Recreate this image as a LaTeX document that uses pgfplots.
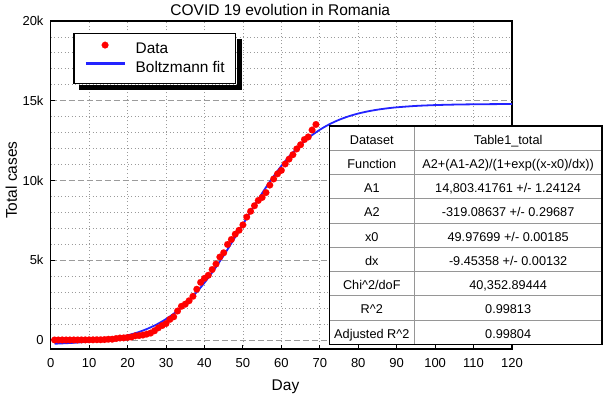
\documentclass[border=0pt]{standalone}
\usepackage{fontspec}
\setmainfont{Liberation Sans}
\usepackage{pgfplots}
\usepackage{pgfplotstable}
\pgfplotsset{compat=1.18}
\definecolor{fitblue}{RGB}{35,35,255}
\definecolor{gridgray}{RGB}{155,155,155}
\definecolor{tabgray}{RGB}{150,150,150}

\pgfplotsset{
  dotlegend/.style={legend image code/.code={%
    \path[draw=none, fill=none] (0bp,0bp) -- (38.7bp,0bp);
    \draw[mark repeat=2, mark phase=2, ##1, /tikz/only marks] plot coordinates {(0bp,4.4bp) (19.3bp,4.4bp) (38.7bp,4.4bp)};}},
  linelegend/.style={legend image code/.code={\draw[##1, line width=2.4bp] (0bp,5bp) -- (38.7bp,5bp);}},
}

\pgfplotstableread{
day total
1 1
2 1
3 3
4 3
5 3
6 3
7 3
8 4
9 6
10 9
11 9
12 15
13 15
14 25
15 45
16 49
17 89
18 123
19 131
20 158
21 184
22 260
23 277
24 308
25 367
26 433
27 576
28 762
29 906
30 1029
31 1292
32 1452
33 1815
34 2109
35 2245
36 2460
37 2738
38 3183
39 3613
40 3864
41 4057
42 4417
43 4761
44 5202
45 5467
46 5990
47 6300
48 6633
49 6879
50 7216
51 7707
52 8067
53 8418
54 8746
55 8936
56 9242
57 9710
58 10096
59 10417
60 10635
61 11036
62 11339
63 11616
64 11978
65 12240
66 12567
67 12732
68 13163
69 13512
}\datatable

\pgfplotstableread{
x fit
1 -234.5
2.5 -220.1
5 -190.4
7.5 -151.8
10 -101.9
12.5 -37.4
15 45.8
17.5 152.9
20 289.9
22.5 464.7
25 686.3
27.5 964.7
30 1311.6
32.5 1737.9
35 2254.5
37.5 2869.9
40 3585.5
42.5 4398.8
45 5296.3
47.5 6257.3
50 7251.4
52.5 8245.5
55 9204.4
57.5 10101.5
60 10912.6
62.5 11626.9
65 12240.1
67.5 12755.4
70 13179.9
72.5 13525.2
75 13802.9
77.5 14023.2
80 14197.3
82.5 14333.7
85 14440.2
87.5 14523.0
90 14587.3
95 14675.3
100 14727.6
105 14758.6
110 14776.9
115 14787.8
120 14794.2
}\fittable

\begin{document}
\begin{tikzpicture}
\path[use as bounding box] (-50.7bp,-45bp) rectangle (556.3bp,349bp);
\begin{axis}[
  at={(0,0)}, anchor=south west,
  scale only axis, width=461.3bp, height=328bp,
  xmin=0, xmax=120, ymin=-566, ymax=20000,
  axis line style={line width=1.2bp},
  xtick={0,10,...,120},
  ytick={0,5000,10000,15000,20000},
  yticklabels={0,5k,10k,15k,20k},
  scaled y ticks=false,
  minor ytick={1000,2000,3000,4000,6000,7000,8000,9000,11000,12000,13000,14000,16000,17000,18000,19000},
  extra y ticks={0,5000,10000,15000},
  extra y tick labels={},
  extra y tick style={grid=major, major grid style={gridgray, line width=0.8bp, dash pattern=on 6bp off 3bp}},
  xmajorgrids, ymajorgrids=false, yminorgrids,
  major grid style={gridgray, line width=0.8bp, dash pattern=on 1bp off 2.5bp},
  minor grid style={gridgray, line width=0.8bp, dash pattern=on 1bp off 2.5bp},
  tick align=inside, xtick pos=left, ytick pos=left,
  major tick length=4bp, minor tick length=0bp,
  tick style={black, line width=1bp},
  /pgf/number format/assume math mode=true,
  ticklabel style={font=\fontsize{13bp}{15bp}\selectfont},
  xticklabel style={anchor=base, yshift=-18.3bp},
  yticklabel style={anchor=east, inner sep=0pt, xshift=-7bp},
  xlabel={Day},
  xlabel style={at={(axis description cs:0.509,-0.128)}, anchor=base, font=\fontsize{15.5bp}{18bp}\selectfont, inner sep=0pt},
  ylabel={Total cases},
  ylabel style={at={(axis description cs:-0.0731,0.515)}, anchor=base, font=\fontsize{15.5bp}{18bp}\selectfont, inner sep=0pt},
  legend cell align=left,
  legend style={name=leg, at={(axis description cs:0.049,0.9625)}, anchor=north west,
    draw=black, line width=1.2bp, fill=white,
    font=\fontsize{15.4bp}{18bp}\selectfont,
    inner xsep=10.7bp, inner ysep=7.8bp, column sep=10bp, row sep=4.5bp,
    nodes={inner sep=0pt, text height=11.5bp, text depth=3bp}},
]
\addplot[only marks, mark=*, mark size=3.4bp, color=red, mark options={fill=red, draw=red, line width=0.1bp}, dotlegend]
  table[x=day, y=total] {\datatable};
\addlegendentry{Data}
\addplot[fitblue, line width=1.8bp, smooth, no marks, linelegend]
  table[x=x, y=fit] {\fittable};
\addlegendentry{Boltzmann fit}
\end{axis}

% title
\node[anchor=base, inner sep=0pt, font=\fontsize{15.5bp}{18bp}\selectfont] at (229.6bp,333.7bp) {COVID 19 evolution in Romania};

% legend shadow (right and bottom strips)
\fill[black] ([xshift=0.6bp]leg.north east) ++(0bp,-5.5bp) rectangle ([xshift=6.1bp,yshift=-6.1bp]leg.south east);
\fill[black] ([xshift=5.5bp,yshift=-0.6bp]leg.south west) rectangle ([xshift=6.1bp,yshift=-6.1bp]leg.south east);

% parameter table
\fill[white] (278.6bp,4.7bp) rectangle (551.3bp,223bp);
\foreach \i in {1,...,8} {
  \draw[tabgray, line width=0.8bp] (278.6bp,{223bp-\i*24.26bp}) -- (551.3bp,{223bp-\i*24.26bp});
}
\draw[tabgray, line width=0.8bp] (363.6bp,4.7bp) -- (363.6bp,223bp);
\draw[black, line width=1.2bp] (278.6bp,4.7bp) rectangle (551.3bp,223bp);
\begin{scope}[every node/.style={anchor=base, inner sep=0pt, font=\fontsize{12.7bp}{15bp}\selectfont}]
\node at (321.1bp,204.87bp) {Dataset};
\node at (457.45bp,204.87bp) {Table1\_total};
\node at (321.1bp,180.61bp) {Function};
\node at (457.45bp,180.61bp) {A2+(A1-A2)/(1+exp((x-x0)/dx))};
\node at (321.1bp,156.35bp) {A1};
\node at (457.45bp,156.35bp) {14,803.41761 +/- 1.24124};
\node at (321.1bp,132.09bp) {A2};
\node at (457.45bp,132.09bp) {-319.08637 +/- 0.29687};
\node at (321.1bp,107.83bp) {x0};
\node at (457.45bp,107.83bp) {49.97699 +/- 0.00185};
\node at (321.1bp,83.57bp) {dx};
\node at (457.45bp,83.57bp) {-9.45358 +/- 0.00132};
\node at (321.1bp,59.31bp) {Chi\textasciicircum 2/doF};
\node at (457.45bp,59.31bp) {40,352.89444};
\node at (321.1bp,35.05bp) {R\textasciicircum 2};
\node at (457.45bp,35.05bp) {0.99813};
\node at (321.1bp,10.79bp) {Adjusted R\textasciicircum 2};
\node at (457.45bp,10.79bp) {0.99804};
\end{scope}
\end{tikzpicture}
\end{document}
